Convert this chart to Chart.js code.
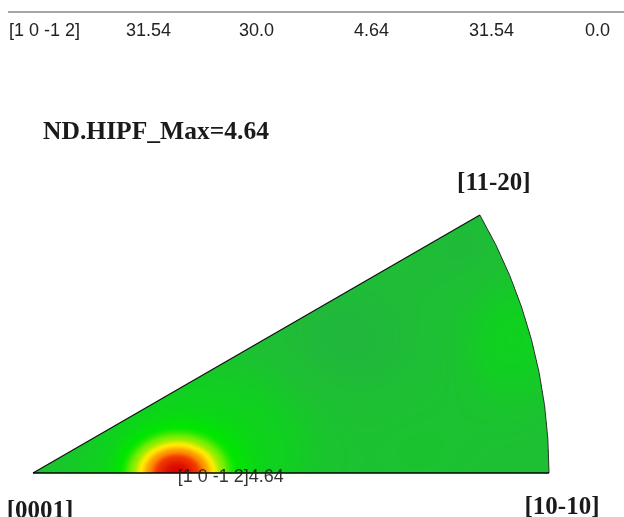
<!DOCTYPE html>
<html lang="en">
<head>
  <meta charset="UTF-8">
  <title>ND.HIPF</title>
  <script src="https://cdn.jsdelivr.net/npm/chart.js"></script>
  <style>
    body { margin: 0; padding: 0; background: #fff; }
    #wrap { position: absolute; left: 0; top: 0; width: 624px; height: 517px; }
  </style>
</head>
<body>
  <div id="wrap"><canvas id="ipf"></canvas></div>
  <script>
    // table row above the figure
    const tableRow = ['[1 0 -1 2]', '31.54', '30.0', '4.64', '31.54', '0.0'];

    // corner poles of the hexagonal standard triangle (angle from ND, azimuth)
    const poleNames = ['[0001]', '[10-10]', '[11-20]'];
    const poleTheta = [0, 90, 90];
    const polePhi = [0, 0, 30];

    // maximum of the inverse pole figure
    const peakName = '[1 0 -1 2]';
    const peakTheta = 31.54;
    const peakPhi = 0;
    const peakValue = 4.64;

    // intensity field: background level plus gaussian blobs (stereographic x, y)
    const baseLevel = 1.0;
    const blobX = [0.279, 0.279, 0.60, 0.93, 0.45, 0.85, 0.75, 0.12];
    const blobY = [0.0, 0.0, 0.25, 0.26, 0.10, 0.42, 0.05, 0.05];
    const blobAmp = [3.12, 0.52, -0.09, 0.22, 0.08, -0.06, 0.05, -0.06];
    const blobSpreadX = [0.048, 0.13, 0.10, 0.07, 0.10, 0.07, 0.09, 0.06];
    const blobSpreadY = [0.037, 0.11, 0.09, 0.09, 0.09, 0.07, 0.09, 0.05];

    function stereo(theta, phi) {
      const r = Math.tan(theta * Math.PI / 360);
      return { x: r * Math.cos(phi * Math.PI / 180), y: r * Math.sin(phi * Math.PI / 180) };
    }

    // colour map: level -> rgb
    const cmap = [
      [0.7, [32, 168, 72]],
      [0.9, [33, 182, 62]],
      [1.0, [30, 191, 52]],
      [1.2, [16, 208, 32]],
      [1.55, [0, 230, 0]],
      [2.0, [130, 238, 0]],
      [2.5, [255, 236, 0]],
      [3.1, [255, 150, 0]],
      [3.8, [240, 50, 0]],
      [4.64, [215, 5, 0]]
    ];
    function colorAt(v) {
      if (v <= cmap[0][0]) return cmap[0][1];
      for (let i = 1; i < cmap.length; i++) {
        if (v <= cmap[i][0]) {
          const a = cmap[i - 1], b = cmap[i];
          let t = (v - a[0]) / (b[0] - a[0]);
          t = t * t * (3 - 2 * t) * 0.5 + t * 0.5;
          return [0, 1, 2].map(k => a[1][k] + (b[1][k] - a[1][k]) * t);
        }
      }
      return cmap[cmap.length - 1][1];
    }
    function field(x, y) {
      let v = baseLevel;
      for (let i = 0; i < blobX.length; i++) {
        const dx = (x - blobX[i]) / blobSpreadX[i], dy = (y - blobY[i]) / blobSpreadY[i];
        v += blobAmp[i] * Math.exp(-(dx * dx + dy * dy) / 2);
      }
      return v;
    }

    const poles = poleTheta.map((t, i) => stereo(t, polePhi[i]));
    const peak = stereo(peakTheta, peakPhi);

    // paints the density inside the sector, then the outline and labels
    const ipfPlugin = {
      id: 'ipf',
      beforeDatasetsDraw(chart) {
        const { ctx, chartArea: a, scales: { x: xs, y: ys } } = chart;
        const w = Math.round(a.right - a.left) + 2, h = Math.round(a.bottom - a.top) + 2;
        const off = document.createElement('canvas');
        off.width = w; off.height = h;
        const octx = off.getContext('2d');
        const img = octx.createImageData(w, h);
        const maxAng = polePhi[2] * Math.PI / 180;
        for (let j = 0; j < h; j++) {
          const vy = ys.getValueForPixel(a.top + j - 1 + 0.5);
          for (let i = 0; i < w; i++) {
            const vx = xs.getValueForPixel(a.left + i - 1 + 0.5);
            const r = Math.hypot(vx, vy);
            if (vy < 0 || r > 1 || Math.atan2(vy, vx) > maxAng) continue;
            const c = colorAt(field(vx, vy));
            const p = (j * w + i) * 4;
            img.data[p] = c[0]; img.data[p + 1] = c[1]; img.data[p + 2] = c[2]; img.data[p + 3] = 255;
          }
        }
        octx.putImageData(img, 0, 0);
        ctx.drawImage(off, a.left - 1, a.top - 1);

        // outline
        const ox = xs.getPixelForValue(0), oy = ys.getPixelForValue(0);
        const rad = xs.getPixelForValue(1) - ox;
        ctx.save();
        ctx.strokeStyle = '#111';
        ctx.lineWidth = 1.2;
        ctx.beginPath();
        ctx.moveTo(ox, oy);
        ctx.lineTo(xs.getPixelForValue(poles[2].x), ys.getPixelForValue(poles[2].y));
        ctx.stroke();
        ctx.beginPath();
        ctx.arc(ox, oy, rad, -maxAng, 0);
        ctx.lineWidth = 1;
        ctx.strokeStyle = '#333';
        ctx.stroke();
        ctx.beginPath();
        ctx.moveTo(ox, oy);
        ctx.lineTo(ox + rad, oy);
        ctx.lineWidth = 1.6;
        ctx.strokeStyle = '#000';
        ctx.stroke();
        ctx.restore();
      },
      afterDraw(chart) {
        const { ctx } = chart;
        const pm = chart.getDatasetMeta(0).data;
        const km = chart.getDatasetMeta(1).data[0];
        ctx.save();
        ctx.fillStyle = '#1a1a1a';
        ctx.font = 'bold 25px "Liberation Serif", serif';
        ctx.textBaseline = 'alphabetic';
        ctx.textAlign = 'center';
        ctx.fillText(poleNames[0], pm[0].x + 7, pm[0].y + 45);
        ctx.fillText(poleNames[1], pm[1].x + 13, pm[1].y + 41);
        ctx.fillText(poleNames[2], pm[2].x + 14, pm[2].y - 25);

        ctx.textAlign = 'left';
        ctx.font = 'bold 26px "Liberation Serif", serif';
        ctx.fillText('ND.HIPF_Max=' + peakValue.toFixed(2), 43, 139, 226);

        ctx.font = '18px "Liberation Sans", Arial, sans-serif';
        ctx.fillStyle = 'rgba(30,30,30,0.9)';
        ctx.fillText(peakName + peakValue.toFixed(2), km.x - 1, km.y + 9, 106);

        // table row
        ctx.fillStyle = '#222';
        ctx.font = '18px "Liberation Sans", Arial, sans-serif';
        const cols = [9, 126, 239, 354, 469, 585];
        tableRow.forEach((t, i) => ctx.fillText(t, cols[i], 36));
        ctx.fillStyle = '#a7a7a7';
        ctx.fillRect(8, 11, 616, 2);
        ctx.restore();
      }
    };

    new Chart(document.getElementById('ipf'), {
      type: 'scatter',
      data: {
        datasets: [
          { label: 'poles', data: poles, pointRadius: 0 },
          { label: 'peak', data: [peak], pointRadius: 0 }
        ]
      },
      options: {
        responsive: true,
        maintainAspectRatio: false,
        animation: false,
        events: [],
        layout: { padding: { left: 33, right: 75, top: 215, bottom: 44 } },
        plugins: { legend: { display: false }, tooltip: { enabled: false } },
        scales: {
          x: { type: 'linear', min: 0, max: 1, display: false },
          y: { type: 'linear', min: 0, max: 0.5, display: false }
        }
      },
      plugins: [ipfPlugin]
    });
  </script>
</body>
</html>
